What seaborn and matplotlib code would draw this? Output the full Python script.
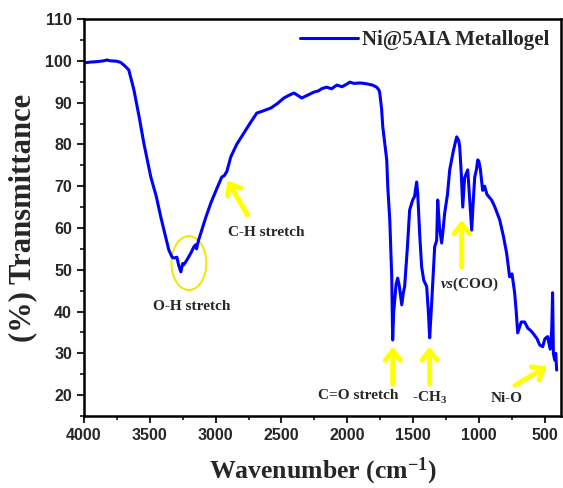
import numpy as np
import pandas as pd
import seaborn as sns
import matplotlib.pyplot as plt
from matplotlib.patches import Ellipse
from matplotlib.ticker import MultipleLocator

# espectro FTIR
wavenumber = [4000, 3950, 3900, 3850, 3825, 3800, 3750, 3720, 3697, 3680, 3659, 3640, 3620,
              3580, 3545, 3492, 3450, 3416, 3380, 3355, 3330, 3317, 3294, 3280, 3264, 3250,
              3241, 3215, 3188, 3165, 3150, 3145, 3130, 3112, 3075, 3036, 2990, 2953, 2935,
              2915, 2885, 2840, 2786, 2740, 2687, 2640, 2581, 2530, 2482, 2440, 2406, 2380,
              2346, 2300, 2255, 2220, 2190, 2156, 2120, 2080, 2040, 2000, 1982, 1950, 1900,
              1853, 1810, 1777, 1760, 1754, 1740, 1731, 1715, 1701, 1693, 1678, 1663, 1656,
              1648, 1640, 1630, 1618, 1605, 1587, 1575, 1565, 1545, 1527, 1504, 1490, 1474,
              1466, 1450, 1436, 1420, 1398, 1385, 1375, 1360, 1337, 1322, 1314, 1300, 1284,
              1272, 1261, 1240, 1223, 1195, 1170, 1155, 1147, 1135, 1124, 1110, 1086, 1070,
              1056, 1045, 1033, 1020, 1010, 1002, 990, 973, 958, 940, 905, 880, 844, 815,
              791, 768, 750, 730, 718, 707, 680, 654, 630, 610, 593, 560, 540, 517, 500,
              480, 460, 448, 442, 436, 426, 418, 411]
transmittance = [99.5, 99.7, 99.8, 100.0, 100.2, 100.0, 99.9, 99.6, 99.0, 98.5, 97.8, 95.5, 93.0,
                 86.5, 80.3, 72.2, 67.5, 62.6, 58.0, 54.7, 53.0, 52.8, 53.0, 51.0, 49.5, 51.5,
                 51.2, 52.5, 54.0, 55.5, 56.0, 55.0, 57.0, 58.8, 62.5, 66.0, 69.5, 72.2, 72.5,
                 73.5, 77.0, 80.0, 82.7, 85.0, 87.5, 88.0, 88.7, 89.8, 91.1, 91.8, 92.3, 91.8,
                 91.1, 91.8, 92.5, 92.8, 93.4, 93.7, 93.3, 94.2, 93.8, 94.5, 94.9, 94.6, 94.7,
                 94.5, 94.2, 93.7, 93.0, 92.3, 88.5, 84.2, 80.0, 76.3, 69.8, 62.0, 48.3, 33.2,
                 40.0, 42.8, 46.5, 48.0, 46.0, 41.6, 44.5, 46.0, 55.0, 64.3, 66.7, 67.5, 71.0,
                 68.4, 58.0, 50.7, 47.5, 46.0, 40.0, 33.7, 42.0, 55.5, 57.0, 66.7, 60.0, 56.4,
                 60.0, 63.6, 68.0, 73.9, 78.5, 81.8, 81.0, 79.4, 73.0, 65.0, 72.0, 73.9, 66.0,
                 59.5, 66.0, 72.2, 74.0, 76.3, 76.0, 74.0, 69.0, 70.0, 68.0, 66.7, 65.0, 62.0, 58.0,
                 54.0, 48.3, 49.0, 44.5, 40.0, 34.9, 37.5, 37.5, 36.0, 35.5, 34.9, 33.5, 32.0, 31.6, 33.5,
                 34.0, 31.0, 36.0, 44.5, 30.0, 28.4, 30.0, 26.0]

df = pd.DataFrame({'wavenumber': wavenumber, 'T': transmittance})

sns.set_style("ticks")
plt.rcParams['font.family'] = ['Liberation Serif', 'DejaVu Serif']
plt.rcParams['mathtext.fontset'] = 'custom'
plt.rcParams['mathtext.rm'] = 'Liberation Serif:bold'
plt.rcParams['mathtext.bf'] = 'Liberation Serif:bold'
plt.rcParams['mathtext.it'] = 'Liberation Serif:italic:bold'

fig = plt.figure(figsize=(5.63, 4.88), dpi=100)
ax = fig.add_axes([0.149, 0.1475, 0.847, 0.8135])

sns.lineplot(data=df, x='wavenumber', y='T', sort=False, color='#0000ff', linewidth=2.2,
             label='Ni@5AIA Metallogel', ax=ax)

ax.set_xlim(4000, 380)
ax.set_ylim(15, 110)
ax.xaxis.set_major_locator(MultipleLocator(500))
ax.xaxis.set_minor_locator(MultipleLocator(250))
ax.yaxis.set_major_locator(MultipleLocator(10))
ax.yaxis.set_minor_locator(MultipleLocator(5))
ax.set_yticks(range(20, 111, 10))

for s in ax.spines.values():
    s.set_linewidth(1.8)
    s.set_color('black')
ax.tick_params(which='major', direction='out', length=5, width=1.5, top=False, right=False)
ax.tick_params(which='minor', direction='out', length=3, width=1.3, top=False, right=False)
for lbl in ax.get_xticklabels() + ax.get_yticklabels():
    lbl.set_fontfamily('Liberation Sans')
    lbl.set_fontweight('bold')
    lbl.set_fontsize(11.5)

ax.set_xlabel('Wavenumber (cm$^{-1}$)', fontsize=18.5, fontweight='bold', labelpad=9)
ax.set_ylabel('(%) Transmittance', fontsize=22, fontweight='bold', labelpad=6)

leg = ax.legend(loc='upper right', frameon=False, handlelength=2.75,
                handletextpad=0.2, borderaxespad=0.15, prop={'weight': 'bold', 'size': 15})

# anotacoes
ax.add_patch(Ellipse((3203, 51.6), 265, 12.9, fill=False, edgecolor='#f0e600', lw=1.4))
af = dict(fontsize=11, fontweight='bold', ha='center', va='center')
arrow = dict(arrowstyle='->,head_length=0.7,head_width=0.55', color='#ffff00', lw=3.6)

ax.text(3180, 41.1, 'O-H stretch', **af)
ax.text(2612, 58.8, 'C-H stretch', **af)
ax.annotate('', xy=(2922, 72.0), xytext=(2748, 62.6), arrowprops=arrow)
ax.annotate('', xy=(1655, 32.3), xytext=(1655, 22.0), arrowprops=arrow)
ax.text(1921, 20.0, 'C=O stretch', **af)
ax.annotate('', xy=(1375, 32.3), xytext=(1375, 22.0), arrowprops=arrow)
ax.text(1375, 19.4, '-CH$_3$', **af)
ax.annotate('', xy=(1132, 62.6), xytext=(1132, 50.0), arrowprops=arrow)
ax.text(1071, 46.4, r'$\mathit{vs}$(COO)', **af)
ax.annotate('', xy=(465, 27.2), xytext=(745, 22.0), arrowprops=arrow)
ax.text(791, 19.3, 'Ni-O', **af)

fig.savefig('out.png', dpi=100)
